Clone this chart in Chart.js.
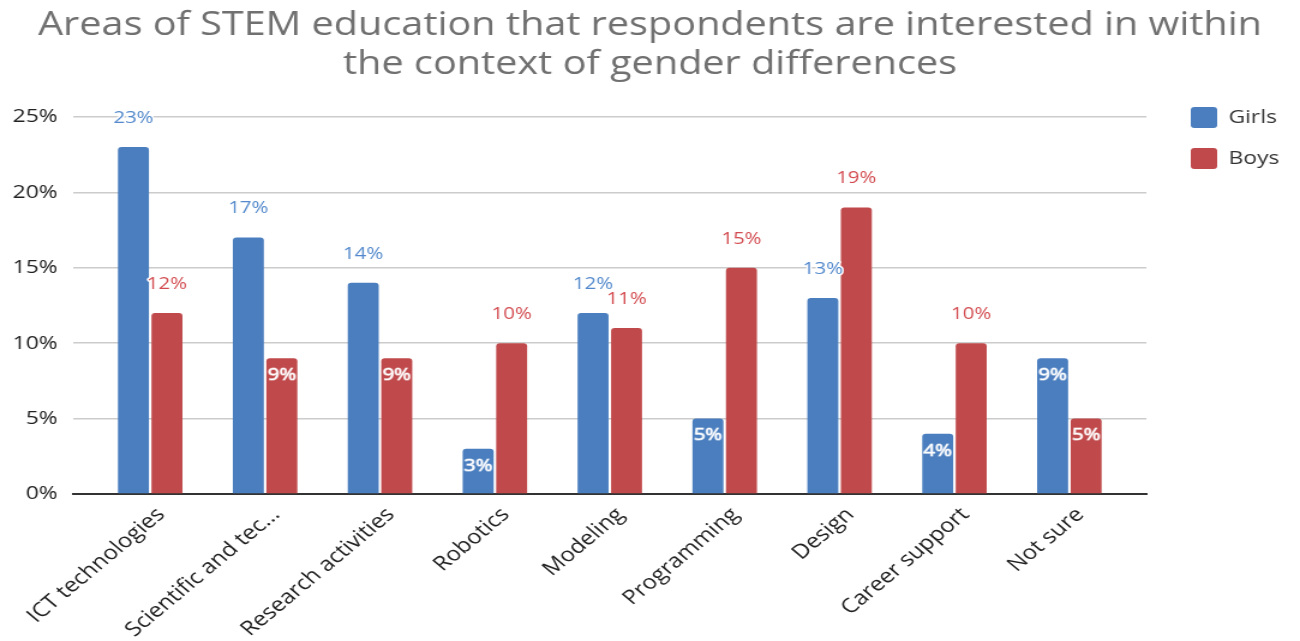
<!DOCTYPE html>
<html>
<head>
<meta charset="utf-8">
<script src="https://cdn.jsdelivr.net/npm/chart.js@4.4.1/dist/chart.umd.min.js"></script>
<style>
  html, body { margin: 0; padding: 0; background: #fff; }
  /* the original picture is stretched sideways, so the canvas is too */
  #stem-chart { width: 1300px; height: 641px; }
</style>
</head>
<body>
<canvas id="stem-chart" width="1083" height="641" style="width:1300px;height:641px"></canvas>
<script>
// values (percent of respondents)
const areas = ['ICT technologies', 'Scientific and tec...', 'Research activities', 'Robotics',
  'Modeling', 'Programming', 'Design', 'Career support', 'Not sure'];
const girls = [23, 17, 14, 3, 12, 5, 13, 4, 9];
const boys = [12, 9, 9, 10, 11, 15, 19, 10, 5];
const yTicks = [0, 5, 10, 15, 20, 25];

const blue = '#4a7ebf';
const red = '#c0494b';
const blueText = '#5389cc';
const redText = '#d34c51';

// value labels: above the bar, or inside it for the small ones
const barLabels = {
  id: 'barLabels',
  afterDatasetsDraw(chart) {
    const ctx = chart.ctx;
    ctx.save();
    ctx.font = '17px "Open Sans"';
    ctx.textAlign = 'center';
    ctx.textBaseline = 'middle';
    ctx.lineJoin = 'round';
    chart.data.datasets.forEach((ds, i) => {
      const meta = chart.getDatasetMeta(i);
      meta.data.forEach((bar, j) => {
        const v = ds.data[j];
        const txt = v + '%';
        if (v < 10) {
          const y = bar.y + 17;
          ctx.strokeStyle = 'rgba(255,255,255,0.6)';
          ctx.lineWidth = 1.2;
          ctx.strokeText(txt, bar.x, y);
          ctx.fillStyle = '#ffffff';
          ctx.fillText(txt, bar.x, y);
        } else {
          const y = bar.y - 29;
          ctx.strokeStyle = '#ffffff';
          ctx.lineWidth = 3;
          ctx.strokeText(txt, bar.x, y);
          ctx.fillStyle = i === 0 ? blueText : redText;
          ctx.fillText(txt, bar.x, y);
        }
      });
    });
    ctx.restore();
  }
};

// legend: fixed width on the right, boxes start just under the title
const legendPlace = {
  id: 'legendPlace',
  afterInit(chart) {
    const lg = chart.legend;
    if (!lg) return;
    const fit = lg.fit.bind(lg);
    lg.fit = function () {
      fit();
      this.width = 128;
    };
  },
  afterLayout(chart) {
    const lg = chart.legend;
    if (!lg) return;
    lg.left = chart.chartArea.right + 17;
    lg.right = lg.left + lg.width;
    lg.top = 87;
  }
};

const stemChart = new Chart(document.getElementById('stem-chart'), {
  type: 'bar',
  data: {
    labels: areas,
    datasets: [
      { label: 'Girls', data: girls, backgroundColor: blue,
        borderRadius: { topLeft: 3, topRight: 3 }, borderSkipped: 'bottom' },
      { label: 'Boys', data: boys, backgroundColor: red,
        borderRadius: { topLeft: 3, topRight: 3 }, borderSkipped: 'bottom' }
    ]
  },
  options: {
    responsive: false,
    animation: false,
    devicePixelRatio: 1,
    datasets: { bar: { categoryPercentage: 0.583, barPercentage: 0.925 } },
    layout: { padding: { left: 0, right: 0, top: 6, bottom: 0 } },
    plugins: {
      title: {
        display: true,
        text: ['Areas of STEM education that respondents are interested in within',
               'the context of gender differences'],
        color: '#707070',
        font: { family: '"Open Sans"', size: 33, weight: 'normal', lineHeight: 1.18 },
        padding: { top: 0, bottom: 33 }
      },
      legend: {
        position: 'right',
        align: 'start',
        labels: {
          boxWidth: 22,
          boxHeight: 21,
          useBorderRadius: true,
          borderRadius: 3,
          padding: 20,
          color: '#333333',
          font: { family: '"Open Sans"', size: 19 }
        }
      },
      tooltip: { enabled: false }
    },
    scales: {
      x: {
        grid: { display: false, drawTicks: false },
        border: { color: '#333333', width: 2 },
        ticks: {
          color: '#222222',
          font: { family: '"Open Sans"', size: 20 },
          minRotation: 45,
          maxRotation: 45,
          autoSkip: false,
          padding: 9,
          labelOffset: 9
        },
        // a little empty room at both ends of the category axis
        afterBuildTicks(scale) {
          scale._startValue -= 0.17;
          scale._valueRange += 0.34;
        },
        afterFit(scale) { scale.height = 147; }
      },
      y: {
        min: 0,
        max: 25,
        afterBuildTicks(scale) { scale.ticks = yTicks.map(v => ({ value: v })); },
        grid: { color: '#cccccc', lineWidth: 1.5, drawTicks: false },
        border: { display: false },
        ticks: {
          color: '#222222',
          font: { family: '"Open Sans"', size: 19 },
          padding: 13,
          callback: v => v + '%'
        },
        afterFit(scale) { scale.width = 61; }
      }
    }
  },
  plugins: [barLabels, legendPlace]
});
</script>
</body>
</html>
